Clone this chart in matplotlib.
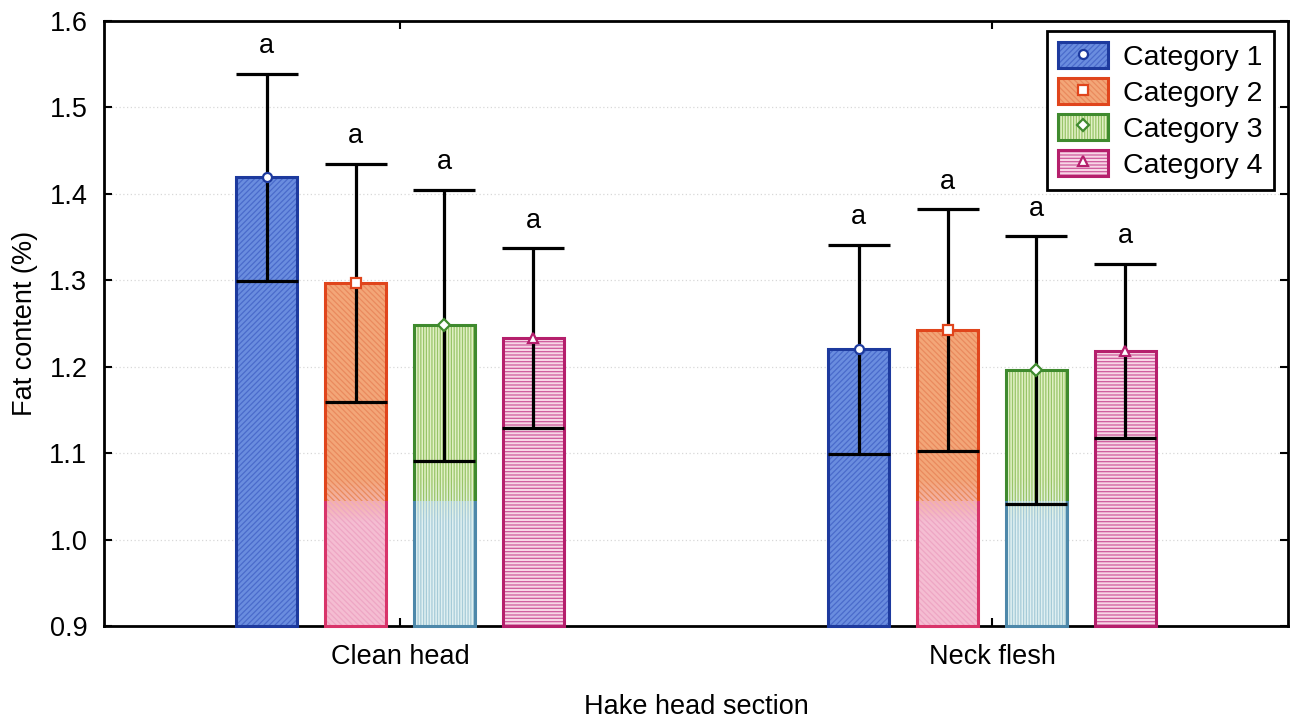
import numpy as np
import matplotlib
matplotlib.use("Agg")
import matplotlib.pyplot as plt
from matplotlib.patches import Rectangle, Patch
from matplotlib.lines import Line2D
from matplotlib.colors import to_rgb
from matplotlib.legend_handler import HandlerTuple

# ---- data -------------------------------------------------------------
sections = ["Clean head", "Neck flesh"]
categories = ["Category 1", "Category 2", "Category 3", "Category 4"]

mean_cat1 = [1.419, 1.220]
mean_cat2 = [1.297, 1.242]
mean_cat3 = [1.248, 1.196]
mean_cat4 = [1.233, 1.218]

err_cat1 = [0.120, 0.121]
err_cat2 = [0.138, 0.140]
err_cat3 = [0.157, 0.155]
err_cat4 = [0.104, 0.101]

letters_cat1 = ["a", "a"]
letters_cat2 = ["a", "a"]
letters_cat3 = ["a", "a"]
letters_cat4 = ["a", "a"]

y_ticks = [0.9, 1.0, 1.1, 1.2, 1.3, 1.4, 1.5, 1.6]

means = [mean_cat1, mean_cat2, mean_cat3, mean_cat4]
errors = [err_cat1, err_cat2, err_cat3, err_cat4]
letters = [letters_cat1, letters_cat2, letters_cat3, letters_cat4]

# ---- styles -----------------------------------------------------------
# face (top, bottom), hatch colour (top, bottom), edge (top, bottom)
styles = [
    dict(face=("#6a8ddf", "#6a8ddf"), hcol=("#4a6bcb", "#4a6bcb"),
         edge=("#1d3a9e", "#1d3a9e"), hatch="//////", marker="o"),
    dict(face=("#f3a678", "#f5bdd2"), hcol=("#ea8a5e", "#eea6c4"),
         edge=("#e0451c", "#d8346a"), hatch="\\\\\\\\\\\\", marker="s"),
    dict(face=("#e2f1c6", "#e0f0f2"), hcol=("#98c468", "#a6cbd8"),
         edge=("#3f8a2e", "#4d88aa"), hatch="||||||", marker="D"),
    dict(face=("#f8d6e6", "#f8d6e6"), hcol=("#cf5a9c", "#cf5a9c"),
         edge=("#b51f6c", "#b51f6c"), hatch="-----", marker="^"),
]
fade_lo, fade_hi = 1.02, 1.07     # colour fade band near the bar bottoms
split = 0.5 * (fade_lo + fade_hi)

bar_width = 0.103
bar_step = 0.150
ymin, ymax = 0.9, 1.6

plt.rcParams["font.family"] = ["Liberation Sans", "DejaVu Sans"]
plt.rcParams["hatch.linewidth"] = 0.9
FS = 19.5
LEG_FS = 20.5
MS = 6.5

fig = plt.figure(figsize=(12.99, 7.24), dpi=100)
ax = fig.add_axes([0.0801, 0.1354, 0.9114, 0.8356])

group_x = np.arange(len(sections))
yy = np.linspace(ymin, ymax, 400)
t = np.clip((yy - fade_lo) / (fade_hi - fade_lo), 0, 1)[:, None]


def region(lo, hi):
    return Rectangle((-10, lo), 20, hi - lo, transform=ax.transData)


for i, cat in enumerate(categories):
    st = styles[i]
    xs = group_x + (i - 1.5) * bar_step
    heights = np.array(means[i]) - ymin
    bars = ax.bar(xs, heights, width=bar_width, bottom=ymin,
                  facecolor="none", edgecolor="none", zorder=2)
    for rect in bars.patches:
        x0 = rect.get_x()
        x1 = x0 + rect.get_width()
        top_c = np.array(to_rgb(st["face"][0]))
        bot_c = np.array(to_rgb(st["face"][1]))
        rgb = bot_c * (1 - t) + top_c * t
        img = ax.imshow(rgb[:, None, :], extent=(x0, x1, ymin, ymax),
                        origin="lower", aspect="auto", zorder=1,
                        interpolation="bilinear")
        img.set_clip_path(rect)
        # hatch + outline, upper and lower colour parts
        for part, (lo, hi) in enumerate([(split, 5.0), (-5.0, split)]):
            h = Rectangle(rect.get_xy(), rect.get_width(), rect.get_height(),
                          facecolor="none", edgecolor=st["hcol"][part],
                          hatch=st["hatch"], linewidth=0, zorder=2)
            ax.add_patch(h)
            h.set_clip_path(region(lo, hi))
            e = Rectangle(rect.get_xy(), rect.get_width(), rect.get_height(),
                          facecolor="none", edgecolor=st["edge"][part],
                          linewidth=2.2, zorder=3)
            ax.add_patch(e)
            e.set_clip_path(region(lo, hi))

    ax.errorbar(xs, means[i], yerr=errors[i], fmt="none", ecolor="black",
                elinewidth=2.3, capsize=22, capthick=2.3, zorder=4)
    ax.plot(xs, means[i], ls="none", marker=st["marker"], ms=MS,
            mfc="white", mec=st["edge"][0], mew=1.6, zorder=5)
    for x, m, e, lab in zip(xs, means[i], errors[i], letters[i]):
        ax.annotate(lab, (x, m + e), xytext=(0, 10.5),
                    textcoords="offset points", ha="center", va="bottom",
                    fontsize=FS, zorder=6)

# ---- axes -------------------------------------------------------------
ax.set_xlim(-0.5, 1.5)
ax.set_ylim(ymin, ymax)
ax.set_yticks(y_ticks)
ax.set_yticklabels([f"{v:.1f}" for v in y_ticks])
ax.set_xticks(group_x)
ax.set_xticklabels(sections)
ax.tick_params(axis="both", direction="in", labelsize=FS, width=1.5,
               length=6, top=True, right=True)
ax.tick_params(axis="y", pad=12)
ax.tick_params(axis="x", pad=13)
for sp in ax.spines.values():
    sp.set_linewidth(2)
    sp.set_color("black")

ax.set_axisbelow(True)
ax.yaxis.grid(True, color="#d8d8d8", linestyle=(0, (1, 2)), linewidth=0.9)

ax.set_ylabel("Fat content (%)", fontsize=FS)
ax.set_xlabel("Hake head section", fontsize=FS)
ax.yaxis.set_label_coords(-0.0556, 0.5)
ax.xaxis.set_label_coords(0.5, -0.112)

# ---- legend -----------------------------------------------------------
handles = []
for st in styles:
    handles.append((
        Patch(facecolor=st["face"][0], edgecolor=st["hcol"][0],
              hatch=st["hatch"], linewidth=0),
        Patch(facecolor="none", edgecolor=st["edge"][0], linewidth=2.2),
        Line2D([], [], ls="none", marker=st["marker"], ms=MS,
               mfc="white", mec=st["edge"][0], mew=1.6),
    ))
leg = ax.legend(handles, categories, loc="upper right",
                bbox_to_anchor=(0.9882, 0.9835), fontsize=LEG_FS,
                handler_map={tuple: HandlerTuple(ndivide=1)},
                handlelength=1.75, handleheight=1.0, handletextpad=0.53,
                labelspacing=0.26, borderpad=0.4, borderaxespad=0,
                fancybox=False, framealpha=1, edgecolor="black")
leg.get_frame().set_linewidth(2)
leg.set_zorder(10)

fig.savefig("out.png", dpi=100, facecolor="white")
